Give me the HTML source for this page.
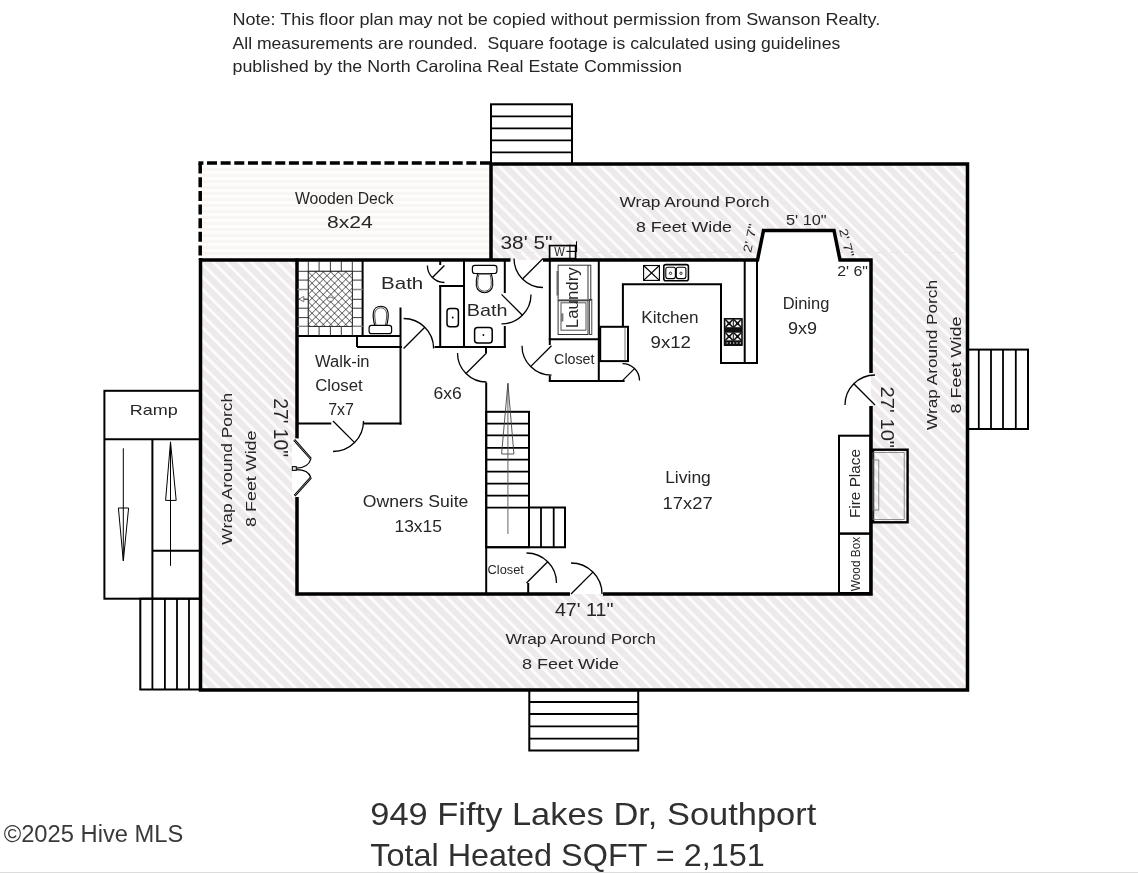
<!DOCTYPE html>
<html><head><meta charset="utf-8"><title>Floor Plan</title>
<style>html,body{margin:0;padding:0;background:#fff;}svg{display:block;will-change:transform;}</style>
</head><body>
<svg width="1138" height="873" viewBox="0 0 1138 873">
<defs>
<pattern id="hatch" patternUnits="userSpaceOnUse" width="9" height="9" patternTransform="rotate(45)">
<rect width="9" height="9" fill="#fdfcfc"/><rect width="9" height="6.1" fill="#eee9ea"/>
</pattern>
<pattern id="deck" patternUnits="userSpaceOnUse" width="10" height="6">
<rect width="10" height="6" fill="#fefdfc"/><rect width="10" height="3" fill="#f9f5f2"/>
</pattern>
<pattern id="xh" patternUnits="userSpaceOnUse" width="5.3" height="5.3" patternTransform="translate(308.3 271.3) rotate(45)">
<rect width="5.3" height="5.3" fill="#fff"/><line x1="0" y1="0" x2="5.3" y2="0" stroke="#000" stroke-width="1"/><line x1="0" y1="0" x2="0" y2="5.3" stroke="#000" stroke-width="1"/>
</pattern>
</defs>
<rect width="1138" height="873" fill="#fff"/>

<rect x="200" y="164" width="768" height="526" fill="url(#hatch)"/>
<rect x="200" y="164" width="291" height="96" fill="url(#deck)"/>
<line x1="512" y1="252.5" x2="966" y2="252.5" stroke="#e8e5e5" stroke-width="1" stroke-dasharray="9 5"/>
<path d="M297 260 H757.5 L763.5 230.5 H834 L840 260 H871 V594 H297 Z" fill="#fff"/>
<path d="M491 164 H967.5 V690 H200.5 V258" stroke="#000" stroke-width="3.5" fill="none" />
<line x1="491" y1="164" x2="491" y2="260" stroke="#000" stroke-width="3.5" />
<path d="M200.2 163.6 V260" stroke="#000" stroke-width="3.5" fill="none" stroke-dasharray="10 3.65"/>
<path d="M207 163 H491" stroke="#000" stroke-width="3.5" fill="none" stroke-dasharray="10 3.65"/>
<rect x="198.4" y="161.3" width="5" height="3.5" fill="#000"/>
<path d="M199 260 H510.5" stroke="#000" stroke-width="3.5" fill="none" />
<path d="M543 260 H757.5 L763.5 230.5 H834 L840 260 H871 V373" stroke="#000" stroke-width="3.5" fill="none" />
<path d="M871 406 V594 H603" stroke="#000" stroke-width="3.5" fill="none" />
<path d="M570 594 H297 V497" stroke="#000" stroke-width="3.5" fill="none" />
<path d="M297 438.5 V258.5" stroke="#000" stroke-width="3.5" fill="none" />
<rect x="491" y="104.3" width="81" height="59.7" stroke="#000" stroke-width="2" fill="none" />
<line x1="491" y1="116.3" x2="572" y2="116.3" stroke="#000" stroke-width="1.8" />
<line x1="491" y1="128.3" x2="572" y2="128.3" stroke="#000" stroke-width="1.8" />
<line x1="491" y1="140.3" x2="572" y2="140.3" stroke="#000" stroke-width="1.8" />
<line x1="491" y1="152.3" x2="572" y2="152.3" stroke="#000" stroke-width="1.8" />
<rect x="968" y="349.6" width="60" height="79.39999999999998" stroke="#000" stroke-width="2" fill="none" />
<line x1="978.8" y1="349.6" x2="978.8" y2="429" stroke="#000" stroke-width="1.8" />
<line x1="991" y1="349.6" x2="991" y2="429" stroke="#000" stroke-width="1.8" />
<line x1="1003" y1="349.6" x2="1003" y2="429" stroke="#000" stroke-width="1.8" />
<line x1="1015.8" y1="349.6" x2="1015.8" y2="429" stroke="#000" stroke-width="1.8" />
<rect x="529.3" y="690" width="108.90000000000009" height="60.5" stroke="#000" stroke-width="2" fill="none" />
<line x1="529.3" y1="702" x2="638.2" y2="702" stroke="#000" stroke-width="1.8" />
<line x1="529.3" y1="714" x2="638.2" y2="714" stroke="#000" stroke-width="1.8" />
<line x1="529.3" y1="726.3" x2="638.2" y2="726.3" stroke="#000" stroke-width="1.8" />
<line x1="529.3" y1="738.6" x2="638.2" y2="738.6" stroke="#000" stroke-width="1.8" />
<rect x="140.3" y="598.7" width="59.69999999999999" height="90.79999999999995" stroke="#000" stroke-width="2" fill="none" />
<line x1="152.4" y1="598.7" x2="152.4" y2="689.5" stroke="#000" stroke-width="1.8" />
<line x1="164.9" y1="598.7" x2="164.9" y2="689.5" stroke="#000" stroke-width="1.8" />
<line x1="177" y1="598.7" x2="177" y2="689.5" stroke="#000" stroke-width="1.8" />
<line x1="189" y1="598.7" x2="189" y2="689.5" stroke="#000" stroke-width="1.8" />
<rect x="104.4" y="390.8" width="95.6" height="207.90000000000003" stroke="#000" stroke-width="2" fill="none" />
<line x1="104.4" y1="439.2" x2="200" y2="439.2" stroke="#000" stroke-width="2" />
<line x1="152.4" y1="439.2" x2="152.4" y2="598.7" stroke="#000" stroke-width="2" />
<line x1="152.4" y1="550.7" x2="200" y2="550.7" stroke="#000" stroke-width="2" />
<line x1="123.3" y1="448.3" x2="123.3" y2="560" stroke="#000" stroke-width="1" />
<path d="M118.4 508 L128.6 508 L123.3 561 Z" stroke="#000" stroke-width="1" fill="none" />
<line x1="170.5" y1="565.8" x2="170.5" y2="443" stroke="#000" stroke-width="1" />
<path d="M165.6 500.4 L176.2 500.4 L170.5 441.8 Z" stroke="#000" stroke-width="1" fill="none" />
<line x1="362.6" y1="261" x2="362.6" y2="337" stroke="#000" stroke-width="2.0" />
<line x1="296" y1="336" x2="401" y2="336" stroke="#000" stroke-width="2.0" />
<line x1="357" y1="336" x2="357" y2="347" stroke="#000" stroke-width="2.0" />
<line x1="357" y1="347" x2="402" y2="347" stroke="#000" stroke-width="2.0" />
<line x1="400.5" y1="307.5" x2="400.5" y2="424.6" stroke="#000" stroke-width="2.0" />
<line x1="296" y1="423.6" x2="331.3" y2="423.6" stroke="#000" stroke-width="2.0" />
<line x1="363.4" y1="423.6" x2="401.5" y2="423.6" stroke="#000" stroke-width="2.0" />
<line x1="440.2" y1="285.2" x2="440.2" y2="348" stroke="#000" stroke-width="2.0" />
<line x1="440.2" y1="261" x2="440.2" y2="265" stroke="#000" stroke-width="2.0" />
<line x1="439.2" y1="286" x2="465" y2="286" stroke="#000" stroke-width="2.0" />
<line x1="464" y1="261" x2="464" y2="348" stroke="#000" stroke-width="2.0" />
<line x1="504.8" y1="261" x2="504.8" y2="293" stroke="#000" stroke-width="2.0" />
<line x1="504.8" y1="326" x2="504.8" y2="348" stroke="#000" stroke-width="2.0" />
<line x1="434.5" y1="347" x2="505.8" y2="347" stroke="#000" stroke-width="2.0" />
<line x1="486" y1="347" x2="486" y2="353" stroke="#000" stroke-width="2.0" />
<line x1="486.2" y1="382.5" x2="486.2" y2="594" stroke="#000" stroke-width="2.0" />
<line x1="549.8" y1="261" x2="549.8" y2="345" stroke="#000" stroke-width="2.0" />
<line x1="548.8" y1="339.3" x2="599.8" y2="339.3" stroke="#000" stroke-width="2.0" />
<line x1="598.8" y1="261" x2="598.8" y2="381.9" stroke="#000" stroke-width="2.0" />
<line x1="548.8" y1="380.9" x2="624.6" y2="380.9" stroke="#000" stroke-width="2.0" />
<line x1="549.8" y1="375.5" x2="549.8" y2="381" stroke="#000" stroke-width="2.0" />
<rect x="549.6" y="245.6" width="26.0" height="13.000000000000028" stroke="#000" stroke-width="1.7" fill="#f9f9f9" />
<line x1="569.9" y1="244.5" x2="569.9" y2="258" stroke="#000" stroke-width="1.1" />
<line x1="566.4" y1="251.4" x2="576.9" y2="251.4" stroke="#000" stroke-width="1.1" />
<line x1="576.5" y1="241.3" x2="576.5" y2="251.8" stroke="#000" stroke-width="1.1" />
<path d="M622.9 326.8 V284.3 H721 V363 H758" stroke="#000" stroke-width="2.0" fill="none" />
<line x1="744.7" y1="261" x2="744.7" y2="364" stroke="#000" stroke-width="2.0" />
<line x1="757" y1="261" x2="757" y2="364" stroke="#000" stroke-width="2.0" />
<rect x="600.2" y="326.8" width="27.799999999999955" height="34.30000000000001" stroke="#000" stroke-width="2" fill="none" />
<line x1="625" y1="327.5" x2="625" y2="360.5" stroke="#555" stroke-width="0.8" />
<rect x="839" y="435.7" width="31.5" height="97.90000000000003" stroke="#000" stroke-width="2" fill="none" />
<rect x="839" y="533.6" width="31.5" height="59.39999999999998" stroke="#000" stroke-width="2" fill="none" />
<rect x="873" y="449.7" width="34.60000000000002" height="72.59999999999997" stroke="#000" stroke-width="2.4" fill="none" />
<rect x="873" y="452.6" width="31.200000000000045" height="66.79999999999995" stroke="#777" stroke-width="0.8" fill="none" />
<rect x="873" y="460" width="5.7999999999999545" height="50" stroke="#777" stroke-width="0.8" fill="none" />
<rect x="486.2" y="411.8" width="42.80000000000001" height="135.40000000000003" stroke="#000" stroke-width="2" fill="none" />
<line x1="486.2" y1="423.7" x2="529" y2="423.7" stroke="#000" stroke-width="1.8" />
<line x1="486.2" y1="435.3" x2="529" y2="435.3" stroke="#000" stroke-width="1.8" />
<line x1="486.2" y1="447.9" x2="529" y2="447.9" stroke="#000" stroke-width="1.8" />
<line x1="486.2" y1="459.7" x2="529" y2="459.7" stroke="#000" stroke-width="1.8" />
<line x1="486.2" y1="471.6" x2="529" y2="471.6" stroke="#000" stroke-width="1.8" />
<line x1="486.2" y1="483.6" x2="529" y2="483.6" stroke="#000" stroke-width="1.8" />
<line x1="486.2" y1="495.7" x2="529" y2="495.7" stroke="#000" stroke-width="1.8" />
<line x1="486.2" y1="507.6" x2="529" y2="507.6" stroke="#000" stroke-width="1.8" />
<path d="M529 507.6 H565 V547.2 H486.2" stroke="#000" stroke-width="2" fill="none" />
<line x1="541" y1="507.6" x2="541" y2="547.2" stroke="#000" stroke-width="1.8" />
<line x1="553.7" y1="507.6" x2="553.7" y2="547.2" stroke="#000" stroke-width="1.8" />
<line x1="507.9" y1="383.3" x2="507.9" y2="534" stroke="#555" stroke-width="0.9" />
<path d="M501.6 454 L513.9 454 L507.9 383.3 Z" stroke="#444" stroke-width="0.9" fill="none" />
<line x1="528.2" y1="583" x2="528.2" y2="594" stroke="#000" stroke-width="2.0" />
<path d="M514.0 258.5 A29 29 0 0 0 543.0 287.5" stroke="#000" stroke-width="1.3" fill="none" />
<line x1="543" y1="258.5" x2="522.5" y2="279.0" stroke="#000" stroke-width="1.3" />
<path d="M403.6 318.5 A30 30 0 0 1 433.6 348.5" stroke="#000" stroke-width="1.3" fill="none" />
<line x1="403.6" y1="348.5" x2="424.8" y2="327.3" stroke="#000" stroke-width="1.3" />
<path d="M427.4 265.5 A17 17 0 0 0 444.4 282.5" stroke="#000" stroke-width="1.3" fill="none" />
<line x1="444.4" y1="265.5" x2="432.4" y2="277.5" stroke="#000" stroke-width="1.3" />
<path d="M531.0 294.4 A29.5 29.5 0 0 1 501.5 323.9" stroke="#000" stroke-width="1.3" fill="none" />
<line x1="501.5" y1="294.4" x2="522.4" y2="315.3" stroke="#000" stroke-width="1.3" />
<path d="M457.5 353.0 A29 29 0 0 0 486.5 382.0" stroke="#000" stroke-width="1.3" fill="none" />
<line x1="486.5" y1="353" x2="466.0" y2="373.5" stroke="#000" stroke-width="1.3" />
<path d="M522.0 345.7 A29.5 29.5 0 0 0 551.5 375.2" stroke="#000" stroke-width="1.3" fill="none" />
<line x1="551.5" y1="345.7" x2="530.6" y2="366.6" stroke="#000" stroke-width="1.3" />
<path d="M622.5 363.6 A17 17 0 0 1 639.5 380.6" stroke="#000" stroke-width="1.3" fill="none" />
<line x1="622.5" y1="380.6" x2="634.5" y2="368.6" stroke="#000" stroke-width="1.3" />
<path d="M363.5 421.0 A30.5 30.5 0 0 1 333.0 451.5" stroke="#000" stroke-width="1.3" fill="none" />
<line x1="333" y1="421" x2="354.6" y2="442.6" stroke="#000" stroke-width="1.3" />
<path d="M526.5 553.0 A30 30 0 0 1 556.5 583.0" stroke="#000" stroke-width="1.3" fill="none" />
<line x1="526.5" y1="583" x2="547.7" y2="561.8" stroke="#000" stroke-width="1.3" />
<path d="M571.0 563.0 A31 31 0 0 1 602.0 594.0" stroke="#000" stroke-width="1.3" fill="none" />
<line x1="571" y1="594" x2="592.9" y2="572.1" stroke="#000" stroke-width="1.3" />
<path d="M845.0 405.0 A30 30 0 0 1 875.0 375.0" stroke="#000" stroke-width="1.3" fill="none" />
<line x1="875" y1="405" x2="853.8" y2="383.8" stroke="#000" stroke-width="1.3" />
<rect x="292" y="438.5" width="5" height="58.5" fill="#fff"/>
<line x1="294.2" y1="439.9" x2="310.9" y2="458.8" stroke="#000" stroke-width="2.4" />
<line x1="294.2" y1="439.9" x2="310.9" y2="458.8" stroke="#aaa" stroke-width="0.8" />
<line x1="310.9" y1="477.6" x2="294.6" y2="495.7" stroke="#000" stroke-width="2.4" />
<line x1="310.9" y1="477.6" x2="294.6" y2="495.7" stroke="#aaa" stroke-width="0.8" />
<path d="M310.9 458.8 Q308.3 467.8 296.3 468.2" stroke="#000" stroke-width="1.2" fill="none" />
<path d="M296.3 469.7 Q308.3 469.7 310.9 477.6" stroke="#000" stroke-width="1.2" fill="none" />
<rect x="292.3" y="466.6" width="4.0" height="3.7999999999999545" stroke="#000" stroke-width="1" fill="#ddd" />
<rect x="643.6" y="265.5" width="15.799999999999955" height="14.899999999999977" stroke="#000" stroke-width="1.1" fill="none" />
<line x1="643.6" y1="265.5" x2="659.4" y2="280.4" stroke="#000" stroke-width="1.2" />
<line x1="659.4" y1="265.5" x2="643.6" y2="280.4" stroke="#000" stroke-width="1.2" />
<rect x="663.8" y="264.6" width="24.6" height="16.2" rx="2" fill="none" stroke="#000" stroke-width="1.6"/>
<rect x="665.8" y="267.3" width="9.6" height="11.3" rx="2" fill="none" stroke="#000" stroke-width="1.1"/>
<rect x="676.3" y="267.3" width="9.6" height="11.3" rx="2" fill="none" stroke="#000" stroke-width="1.1"/>
<circle cx="670.5" cy="273.3" r="1.2" fill="none" stroke="#000" stroke-width="0.8"/><circle cx="681" cy="273.3" r="1.2" fill="none" stroke="#000" stroke-width="0.8"/>
<rect x="724.3" y="318.6" width="17.90000000000009" height="26.799999999999955" stroke="#000" stroke-width="1" fill="#111" />
<rect x="725.4" y="319.6" width="7.4" height="7.6" fill="#f4f4f4"/>
<line x1="725.4" y1="319.6" x2="732.8" y2="327.20000000000005" stroke="#111" stroke-width="1.5" />
<line x1="732.8" y1="319.6" x2="725.4" y2="327.20000000000005" stroke="#111" stroke-width="1.5" />
<rect x="727.6" y="321.90000000000003" width="3" height="3" fill="#111"/>
<rect x="733.8" y="319.6" width="7.4" height="7.6" fill="#f4f4f4"/>
<line x1="733.8" y1="319.6" x2="741.1999999999999" y2="327.20000000000005" stroke="#111" stroke-width="1.5" />
<line x1="741.1999999999999" y1="319.6" x2="733.8" y2="327.20000000000005" stroke="#111" stroke-width="1.5" />
<rect x="736.0" y="321.90000000000003" width="3" height="3" fill="#111"/>
<rect x="725.4" y="332.7" width="7.4" height="7.6" fill="#f4f4f4"/>
<line x1="725.4" y1="332.7" x2="732.8" y2="340.3" stroke="#111" stroke-width="1.5" />
<line x1="732.8" y1="332.7" x2="725.4" y2="340.3" stroke="#111" stroke-width="1.5" />
<rect x="727.6" y="335.0" width="3" height="3" fill="#111"/>
<rect x="733.8" y="332.7" width="7.4" height="7.6" fill="#f4f4f4"/>
<line x1="733.8" y1="332.7" x2="741.1999999999999" y2="340.3" stroke="#111" stroke-width="1.5" />
<line x1="741.1999999999999" y1="332.7" x2="733.8" y2="340.3" stroke="#111" stroke-width="1.5" />
<rect x="736.0" y="335.0" width="3" height="3" fill="#111"/>
<rect x="726.5" y="342.3" width="1.2" height="1.4" fill="#ddd"/>
<rect x="729.8" y="342.3" width="1.2" height="1.4" fill="#ddd"/>
<rect x="733.1" y="342.3" width="1.2" height="1.4" fill="#ddd"/>
<rect x="736.4" y="342.3" width="1.2" height="1.4" fill="#ddd"/>
<rect x="739.7" y="342.3" width="1.2" height="1.4" fill="#ddd"/>
<rect x="558.1" y="265.2" width="32.69999999999993" height="35.10000000000002" stroke="#333" stroke-width="1" fill="none" />
<line x1="588" y1="265.2" x2="588" y2="300.3" stroke="#333" stroke-width="1" />
<rect x="556.5" y="271" width="1.9" height="24.5" fill="#666"/>
<line x1="558.1" y1="300" x2="590.8" y2="300" stroke="#777" stroke-width="1.6" />
<rect x="558.1" y="300.8" width="29.899999999999977" height="33.69999999999999" stroke="#333" stroke-width="1" fill="none" />
<rect x="561" y="302.8" width="25" height="27.399999999999977" stroke="#555" stroke-width="1" fill="none" />
<rect x="561" y="313.3" width="2.4" height="8.2" fill="#777"/>
<rect x="589.4" y="299.4" width="2.3999999999999773" height="35.10000000000002" stroke="#333" stroke-width="0.9" fill="none" />
<rect x="472.4" y="265.3" width="24.5" height="8.2" rx="2.5" fill="none" stroke="#000" stroke-width="1.2"/>
<path d="M477.6 273.6 C476.2 279 476 283 476.3 285.5 C476.8 290 480.5 292.7 484.5 292.7 C488.5 292.7 492.2 290 492.7 285.5 C493 283 492.8 279 491.4 273.6" fill="none" stroke="#000" stroke-width="1.1"/>
<path d="M479 273.8 C477.7 279 477.6 283 477.8 285.3 C478.2 289 481 291.2 484.5 291.2 C488 291.2 490.8 289 491.2 285.3 C491.4 283 491.3 279 490 273.8" fill="none" stroke="#222" stroke-width="0.8"/>
<line x1="479" y1="274.3" x2="490" y2="274.3" stroke="#777" stroke-width="1.2" />
<rect x="369.1" y="325.3" width="22.5" height="8.4" rx="2.5" fill="none" stroke="#000" stroke-width="1.2"/>
<path d="M374.6 325.2 C373.2 319.5 373 315.5 373.3 313 C373.8 308.7 377 306.3 380.7 306.3 C384.5 306.3 387.6 308.7 388.1 313 C388.4 315.5 388.2 319.5 386.8 325.2" fill="none" stroke="#000" stroke-width="1.1"/>
<path d="M376 325 C374.8 319.5 374.6 315.5 374.8 313.2 C375.2 309.8 377.8 307.8 380.7 307.8 C383.7 307.8 386.2 309.8 386.6 313.2 C386.8 315.5 386.6 319.5 385.4 325" fill="none" stroke="#222" stroke-width="0.8"/>
<rect x="447" y="308.4" width="11.4" height="18.3" rx="3" fill="none" stroke="#000" stroke-width="1.5"/><circle cx="452.7" cy="317.5" r="0.9" fill="#000"/>
<rect x="474.6" y="327.4" width="17.6" height="15.5" rx="3" fill="none" stroke="#000" stroke-width="1.5"/><circle cx="483.4" cy="335" r="0.9" fill="#000"/>
<line x1="308.3" y1="261" x2="308.3" y2="336" stroke="#222" stroke-width="0.9" />
<line x1="319.1" y1="261" x2="319.1" y2="336" stroke="#222" stroke-width="0.9" />
<line x1="330.4" y1="261" x2="330.4" y2="336" stroke="#222" stroke-width="0.9" />
<line x1="341.3" y1="261" x2="341.3" y2="336" stroke="#222" stroke-width="0.9" />
<line x1="352.3" y1="261" x2="352.3" y2="336" stroke="#222" stroke-width="0.9" />
<line x1="297.6" y1="271.3" x2="362.6" y2="271.3" stroke="#222" stroke-width="0.9" />
<line x1="297.6" y1="280.1" x2="362.6" y2="280.1" stroke="#222" stroke-width="0.9" />
<line x1="297.6" y1="289.5" x2="362.6" y2="289.5" stroke="#222" stroke-width="0.9" />
<line x1="297.6" y1="299.3" x2="362.6" y2="299.3" stroke="#222" stroke-width="0.9" />
<line x1="297.6" y1="308.2" x2="362.6" y2="308.2" stroke="#222" stroke-width="0.9" />
<line x1="297.6" y1="317.6" x2="362.6" y2="317.6" stroke="#222" stroke-width="0.9" />
<line x1="297.6" y1="326.4" x2="362.6" y2="326.4" stroke="#222" stroke-width="0.9" />
<line x1="297.6" y1="289.5" x2="362.6" y2="289.5" stroke="#888" stroke-width="1.3" />
<line x1="297.6" y1="326.4" x2="362.6" y2="326.4" stroke="#888" stroke-width="1.3" />
<rect x="308.3" y="271.3" width="44" height="55.1" fill="url(#xh)" stroke="#222" stroke-width="0.9"/>
<ellipse cx="330.4" cy="299.3" rx="3" ry="2.2" fill="#fff" stroke="#555" stroke-width="0.8"/>
<line x1="303.8" y1="299.1" x2="308.3" y2="299.1" stroke="#555" stroke-width="0.8" />
<path d="M298.9 299.1 L303.8 296.4 L303.8 301.8 Z" stroke="#555" stroke-width="0.8" fill="#fff" />
<text x="344.3" y="203.5" font-size="16" text-anchor="middle" fill="#262626" font-family='"Liberation Sans", sans-serif' textLength="98.6" lengthAdjust="spacingAndGlyphs" >Wooden Deck</text>
<text x="349.8" y="228" font-size="16" text-anchor="middle" fill="#262626" font-family='"Liberation Sans", sans-serif' textLength="45.7" lengthAdjust="spacingAndGlyphs" >8x24</text>
<text x="694.5" y="207" font-size="15" text-anchor="middle" fill="#262626" font-family='"Liberation Sans", sans-serif' textLength="150" lengthAdjust="spacingAndGlyphs" >Wrap Around Porch</text>
<text x="684" y="232" font-size="15" text-anchor="middle" fill="#262626" font-family='"Liberation Sans", sans-serif' textLength="96" lengthAdjust="spacingAndGlyphs" >8 Feet Wide</text>
<text x="526.5" y="249.2" font-size="18" text-anchor="middle" fill="#262626" font-family='"Liberation Sans", sans-serif' textLength="52" lengthAdjust="spacingAndGlyphs" >38' 5"</text>
<text x="559.6" y="255.8" font-size="12" text-anchor="middle" fill="#262626" font-family='"Liberation Sans", sans-serif' textLength="10.5" lengthAdjust="spacingAndGlyphs" >W</text>
<text x="806.3" y="224.6" font-size="15.5" text-anchor="middle" fill="#262626" font-family='"Liberation Sans", sans-serif' textLength="40.8" lengthAdjust="spacingAndGlyphs" >5' 10"</text>
<text x="852.6" y="276.4" font-size="15" text-anchor="middle" fill="#262626" font-family='"Liberation Sans", sans-serif' textLength="30.8" lengthAdjust="spacingAndGlyphs" >2' 6"</text>
<text transform="translate(750.2,238.2) rotate(-78)" x="0" y="0" font-size="12" text-anchor="middle" fill="#262626" font-family='"Liberation Sans", sans-serif' textLength="29" lengthAdjust="spacingAndGlyphs" dominant-baseline="central">2' 7"</text>
<text transform="translate(846.5,242.6) rotate(75)" x="0" y="0" font-size="12" text-anchor="middle" fill="#262626" font-family='"Liberation Sans", sans-serif' textLength="29" lengthAdjust="spacingAndGlyphs" dominant-baseline="central">2' 7"</text>
<text x="806" y="309" font-size="16" text-anchor="middle" fill="#262626" font-family='"Liberation Sans", sans-serif' textLength="46.6" lengthAdjust="spacingAndGlyphs" >Dining</text>
<text x="802.5" y="333.6" font-size="16" text-anchor="middle" fill="#262626" font-family='"Liberation Sans", sans-serif' textLength="29" lengthAdjust="spacingAndGlyphs" >9x9</text>
<text x="670" y="322.6" font-size="16" text-anchor="middle" fill="#262626" font-family='"Liberation Sans", sans-serif' textLength="57.3" lengthAdjust="spacingAndGlyphs" >Kitchen</text>
<text x="670.8" y="348" font-size="16" text-anchor="middle" fill="#262626" font-family='"Liberation Sans", sans-serif' textLength="40.4" lengthAdjust="spacingAndGlyphs" >9x12</text>
<text x="402.2" y="289.4" font-size="17" text-anchor="middle" fill="#262626" font-family='"Liberation Sans", sans-serif' textLength="42.2" lengthAdjust="spacingAndGlyphs" >Bath</text>
<text x="487.2" y="316.2" font-size="17" text-anchor="middle" fill="#262626" font-family='"Liberation Sans", sans-serif' textLength="40.7" lengthAdjust="spacingAndGlyphs" >Bath</text>
<text transform="translate(577.5,297.7) rotate(-90)" x="0" y="0" font-size="17" text-anchor="middle" fill="#262626" font-family='"Liberation Sans", sans-serif' textLength="61" lengthAdjust="spacingAndGlyphs" >Laundry</text>
<text x="342.3" y="366.9" font-size="16" text-anchor="middle" fill="#262626" font-family='"Liberation Sans", sans-serif' textLength="54.5" lengthAdjust="spacingAndGlyphs" >Walk-in</text>
<text x="338.9" y="390.6" font-size="16" text-anchor="middle" fill="#262626" font-family='"Liberation Sans", sans-serif' textLength="47.5" lengthAdjust="spacingAndGlyphs" >Closet</text>
<text x="341" y="414.5" font-size="16" text-anchor="middle" fill="#262626" font-family='"Liberation Sans", sans-serif' textLength="25.7" lengthAdjust="spacingAndGlyphs" >7x7</text>
<text x="447.6" y="399.2" font-size="16" text-anchor="middle" fill="#262626" font-family='"Liberation Sans", sans-serif' textLength="28.2" lengthAdjust="spacingAndGlyphs" >6x6</text>
<text x="574.3" y="363.7" font-size="14" text-anchor="middle" fill="#262626" font-family='"Liberation Sans", sans-serif' textLength="40.4" lengthAdjust="spacingAndGlyphs" >Closet</text>
<text x="415.6" y="506.7" font-size="17" text-anchor="middle" fill="#262626" font-family='"Liberation Sans", sans-serif' textLength="105.5" lengthAdjust="spacingAndGlyphs" >Owners Suite</text>
<text x="418.2" y="532" font-size="17" text-anchor="middle" fill="#262626" font-family='"Liberation Sans", sans-serif' textLength="47.5" lengthAdjust="spacingAndGlyphs" >13x15</text>
<text x="688" y="483" font-size="16" text-anchor="middle" fill="#262626" font-family='"Liberation Sans", sans-serif' textLength="45.7" lengthAdjust="spacingAndGlyphs" >Living</text>
<text x="687.6" y="508.5" font-size="17" text-anchor="middle" fill="#262626" font-family='"Liberation Sans", sans-serif' textLength="50" lengthAdjust="spacingAndGlyphs" >17x27</text>
<text transform="translate(859.5,483.5) rotate(-90)" x="0" y="0" font-size="15" text-anchor="middle" fill="#262626" font-family='"Liberation Sans", sans-serif' textLength="69" lengthAdjust="spacingAndGlyphs" >Fire Place</text>
<text transform="translate(859.5,564) rotate(-90)" x="0" y="0" font-size="12.5" text-anchor="middle" fill="#262626" font-family='"Liberation Sans", sans-serif' textLength="54.5" lengthAdjust="spacingAndGlyphs" >Wood Box</text>
<text x="505.7" y="573.6" font-size="12" text-anchor="middle" fill="#262626" font-family='"Liberation Sans", sans-serif' textLength="36.3" lengthAdjust="spacingAndGlyphs" >Closet</text>
<text x="584.2" y="616.3" font-size="18" text-anchor="middle" fill="#262626" font-family='"Liberation Sans", sans-serif' textLength="58.6" lengthAdjust="spacingAndGlyphs" >47' 11"</text>
<text x="580.6" y="643.8" font-size="15" text-anchor="middle" fill="#262626" font-family='"Liberation Sans", sans-serif' textLength="150.4" lengthAdjust="spacingAndGlyphs" >Wrap Around Porch</text>
<text x="570.5" y="668.5" font-size="15" text-anchor="middle" fill="#262626" font-family='"Liberation Sans", sans-serif' textLength="97" lengthAdjust="spacingAndGlyphs" >8 Feet Wide</text>
<text transform="translate(232,468.7) rotate(-90)" x="0" y="0" font-size="15" text-anchor="middle" fill="#262626" font-family='"Liberation Sans", sans-serif' textLength="152" lengthAdjust="spacingAndGlyphs" >Wrap Around Porch</text>
<text transform="translate(255.5,478.7) rotate(-90)" x="0" y="0" font-size="15" text-anchor="middle" fill="#262626" font-family='"Liberation Sans", sans-serif' textLength="96.4" lengthAdjust="spacingAndGlyphs" >8 Feet Wide</text>
<text transform="translate(273.5,427.7) rotate(90)" x="0" y="0" font-size="20" text-anchor="middle" fill="#262626" font-family='"Liberation Sans", sans-serif' textLength="59" lengthAdjust="spacingAndGlyphs" >27' 10"</text>
<text transform="translate(880.5,417.3) rotate(90)" x="0" y="0" font-size="19" text-anchor="middle" fill="#262626" font-family='"Liberation Sans", sans-serif' textLength="61.4" lengthAdjust="spacingAndGlyphs" >27' 10"</text>
<text transform="translate(937,355) rotate(-90)" x="0" y="0" font-size="15" text-anchor="middle" fill="#262626" font-family='"Liberation Sans", sans-serif' textLength="150" lengthAdjust="spacingAndGlyphs" >Wrap Around Porch</text>
<text transform="translate(961,365) rotate(-90)" x="0" y="0" font-size="15" text-anchor="middle" fill="#262626" font-family='"Liberation Sans", sans-serif' textLength="97" lengthAdjust="spacingAndGlyphs" >8 Feet Wide</text>
<text x="153.7" y="414.6" font-size="15" text-anchor="middle" fill="#262626" font-family='"Liberation Sans", sans-serif' textLength="48" lengthAdjust="spacingAndGlyphs" >Ramp</text>
<text x="232.5" y="25.4" font-size="16.5" text-anchor="start" fill="#262626" font-family='"Liberation Sans", sans-serif' textLength="647.8" lengthAdjust="spacingAndGlyphs" >Note: This floor plan may not be copied without permission from Swanson Realty.</text>
<text x="232.5" y="49.3" font-size="16.5" text-anchor="start" fill="#262626" font-family='"Liberation Sans", sans-serif' textLength="607.7" lengthAdjust="spacingAndGlyphs" xml:space="preserve">All measurements are rounded.  Square footage is calculated using guidelines</text>
<text x="232.5" y="71.7" font-size="16.5" text-anchor="start" fill="#262626" font-family='"Liberation Sans", sans-serif' textLength="449.4" lengthAdjust="spacingAndGlyphs" >published by the North Carolina Real Estate Commission</text>
<text x="370.3" y="825" font-size="32" text-anchor="start" fill="#303030" font-family='"Liberation Sans", sans-serif' textLength="446" lengthAdjust="spacingAndGlyphs" >949 Fifty Lakes Dr, Southport</text>
<text x="370.3" y="866" font-size="32" text-anchor="start" fill="#303030" font-family='"Liberation Sans", sans-serif' textLength="394.5" lengthAdjust="spacingAndGlyphs" >Total Heated SQFT = 2,151</text>
<text x="3.7" y="841.7" font-size="23" text-anchor="start" fill="#3a3a3a" font-family='"Liberation Sans", sans-serif' textLength="179.7" lengthAdjust="spacingAndGlyphs" >©2025 Hive MLS</text>
<rect x="0" y="872" width="1138" height="1" fill="#dcdcdc"/>
</svg>
</body></html>
